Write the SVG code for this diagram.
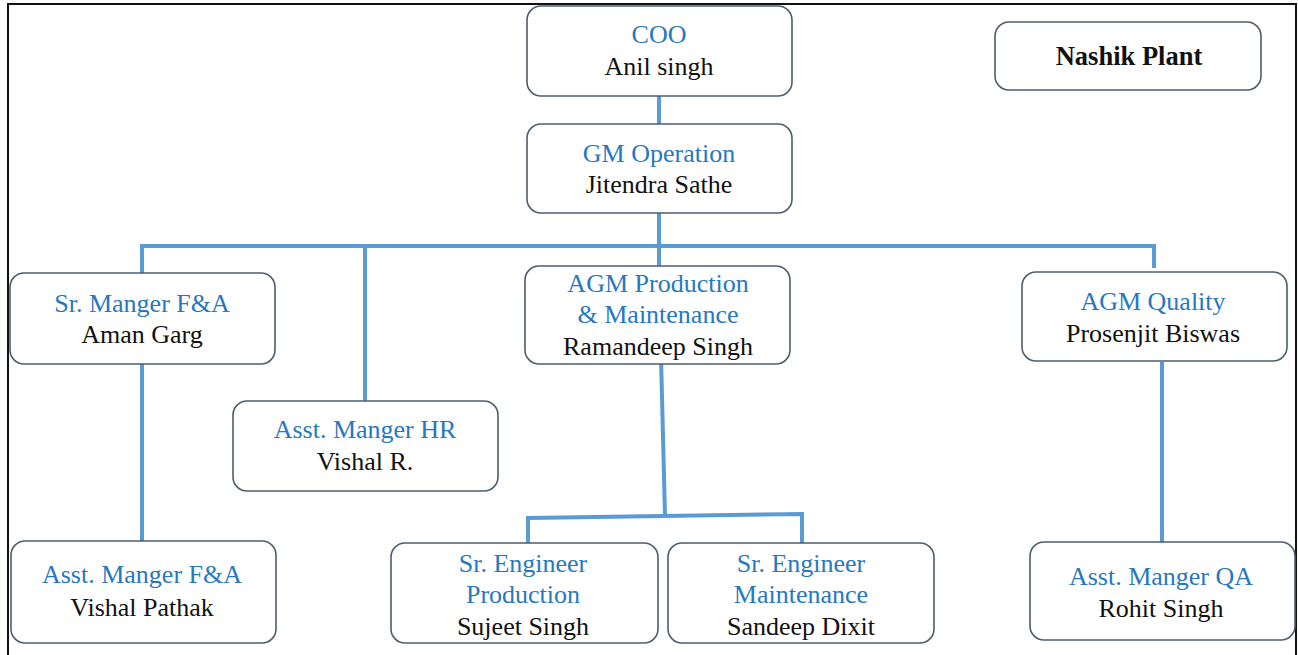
<svg xmlns="http://www.w3.org/2000/svg" width="1298" height="655" viewBox="0 0 1298 655">
<style>
.box{fill:#fff;stroke:#4E5D6C;stroke-width:1.6}
.t{font-family:'Liberation Serif','Times New Roman',serif;font-size:26px;text-anchor:middle}
.ti{fill:#2878BE}
.nm{fill:#111}
.b{font-weight:bold;fill:#111;font-size:26.5px}
.c{fill:none;stroke:#5B9BD5;stroke-width:4}
.frame{fill:none;stroke:#111;stroke-width:2}
</style>
<rect width="1298" height="655" fill="#fff"/>
<path class="frame" d="M8,660 V4 H1296 V660"/>
<g id="connectors">
<path class="c" d="M659,96 V124"/>
<path class="c" d="M659,213 V266"/>
<path class="c" d="M142,273 V246 H1154 V268"/>
<path class="c" d="M365,246 V401"/>
<path class="c" d="M142,364 V541"/>
<path class="c" d="M661,357 L665,516"/>
<path class="c" d="M528,543 V518 L802,514 V543"/>
<path class="c" d="M1162,362 V542"/>
</g>
<g id="coo"><rect class="box" x="527" y="6" width="265" height="90" rx="14"/>
<text class="t ti" x="659" y="43">COO</text><text class="t nm" x="659" y="75">Anil singh</text></g>
<g id="gm"><rect class="box" x="527" y="124" width="265" height="89" rx="14"/>
<text class="t ti" x="659" y="162">GM Operation</text><text class="t nm" x="659" y="193">Jitendra Sathe</text></g>
<g id="nashik"><rect class="box" x="995" y="22" width="266" height="68" rx="14"/>
<text class="t b" x="1129" y="65">Nashik Plant</text></g>
<g id="srfa"><rect class="box" x="10" y="273" width="265" height="91" rx="14"/>
<text class="t ti" x="142" y="312">Sr. Manger F&amp;A</text><text class="t nm" x="142" y="343">Aman Garg</text></g>
<g id="agmprod"><rect class="box" x="525" y="266" width="265" height="98" rx="14"/>
<text class="t ti" x="658" y="292">AGM Production</text><text class="t ti" x="658" y="323">&amp; Maintenance</text><text class="t nm" x="658" y="355">Ramandeep Singh</text></g>
<g id="agmq"><rect class="box" x="1022" y="272" width="265" height="89" rx="14"/>
<text class="t ti" x="1153" y="310">AGM Quality</text><text class="t nm" x="1153" y="342">Prosenjit Biswas</text></g>
<g id="hr"><rect class="box" x="233" y="401" width="265" height="90" rx="14"/>
<text class="t ti" x="365" y="438">Asst. Manger HR</text><text class="t nm" x="365" y="470">Vishal R.</text></g>
<g id="asstfa"><rect class="box" x="11" y="541" width="265" height="102" rx="14"/>
<text class="t ti" x="142" y="583">Asst. Manger F&amp;A</text><text class="t nm" x="142" y="616">Vishal Pathak</text></g>
<g id="sreprod"><rect class="box" x="391" y="543" width="267" height="100" rx="14"/>
<text class="t ti" x="523" y="572">Sr. Engineer</text><text class="t ti" x="523" y="603">Production</text><text class="t nm" x="523" y="635">Sujeet Singh</text></g>
<g id="sremaint"><rect class="box" x="668" y="543" width="266" height="100" rx="14"/>
<text class="t ti" x="801" y="572">Sr. Engineer</text><text class="t ti" x="801" y="603">Maintenance</text><text class="t nm" x="801" y="635">Sandeep Dixit</text></g>
<g id="qa"><rect class="box" x="1030" y="542" width="265" height="98" rx="14"/>
<text class="t ti" x="1161" y="585">Asst. Manger QA</text><text class="t nm" x="1161" y="617">Rohit Singh</text></g>
</svg>
